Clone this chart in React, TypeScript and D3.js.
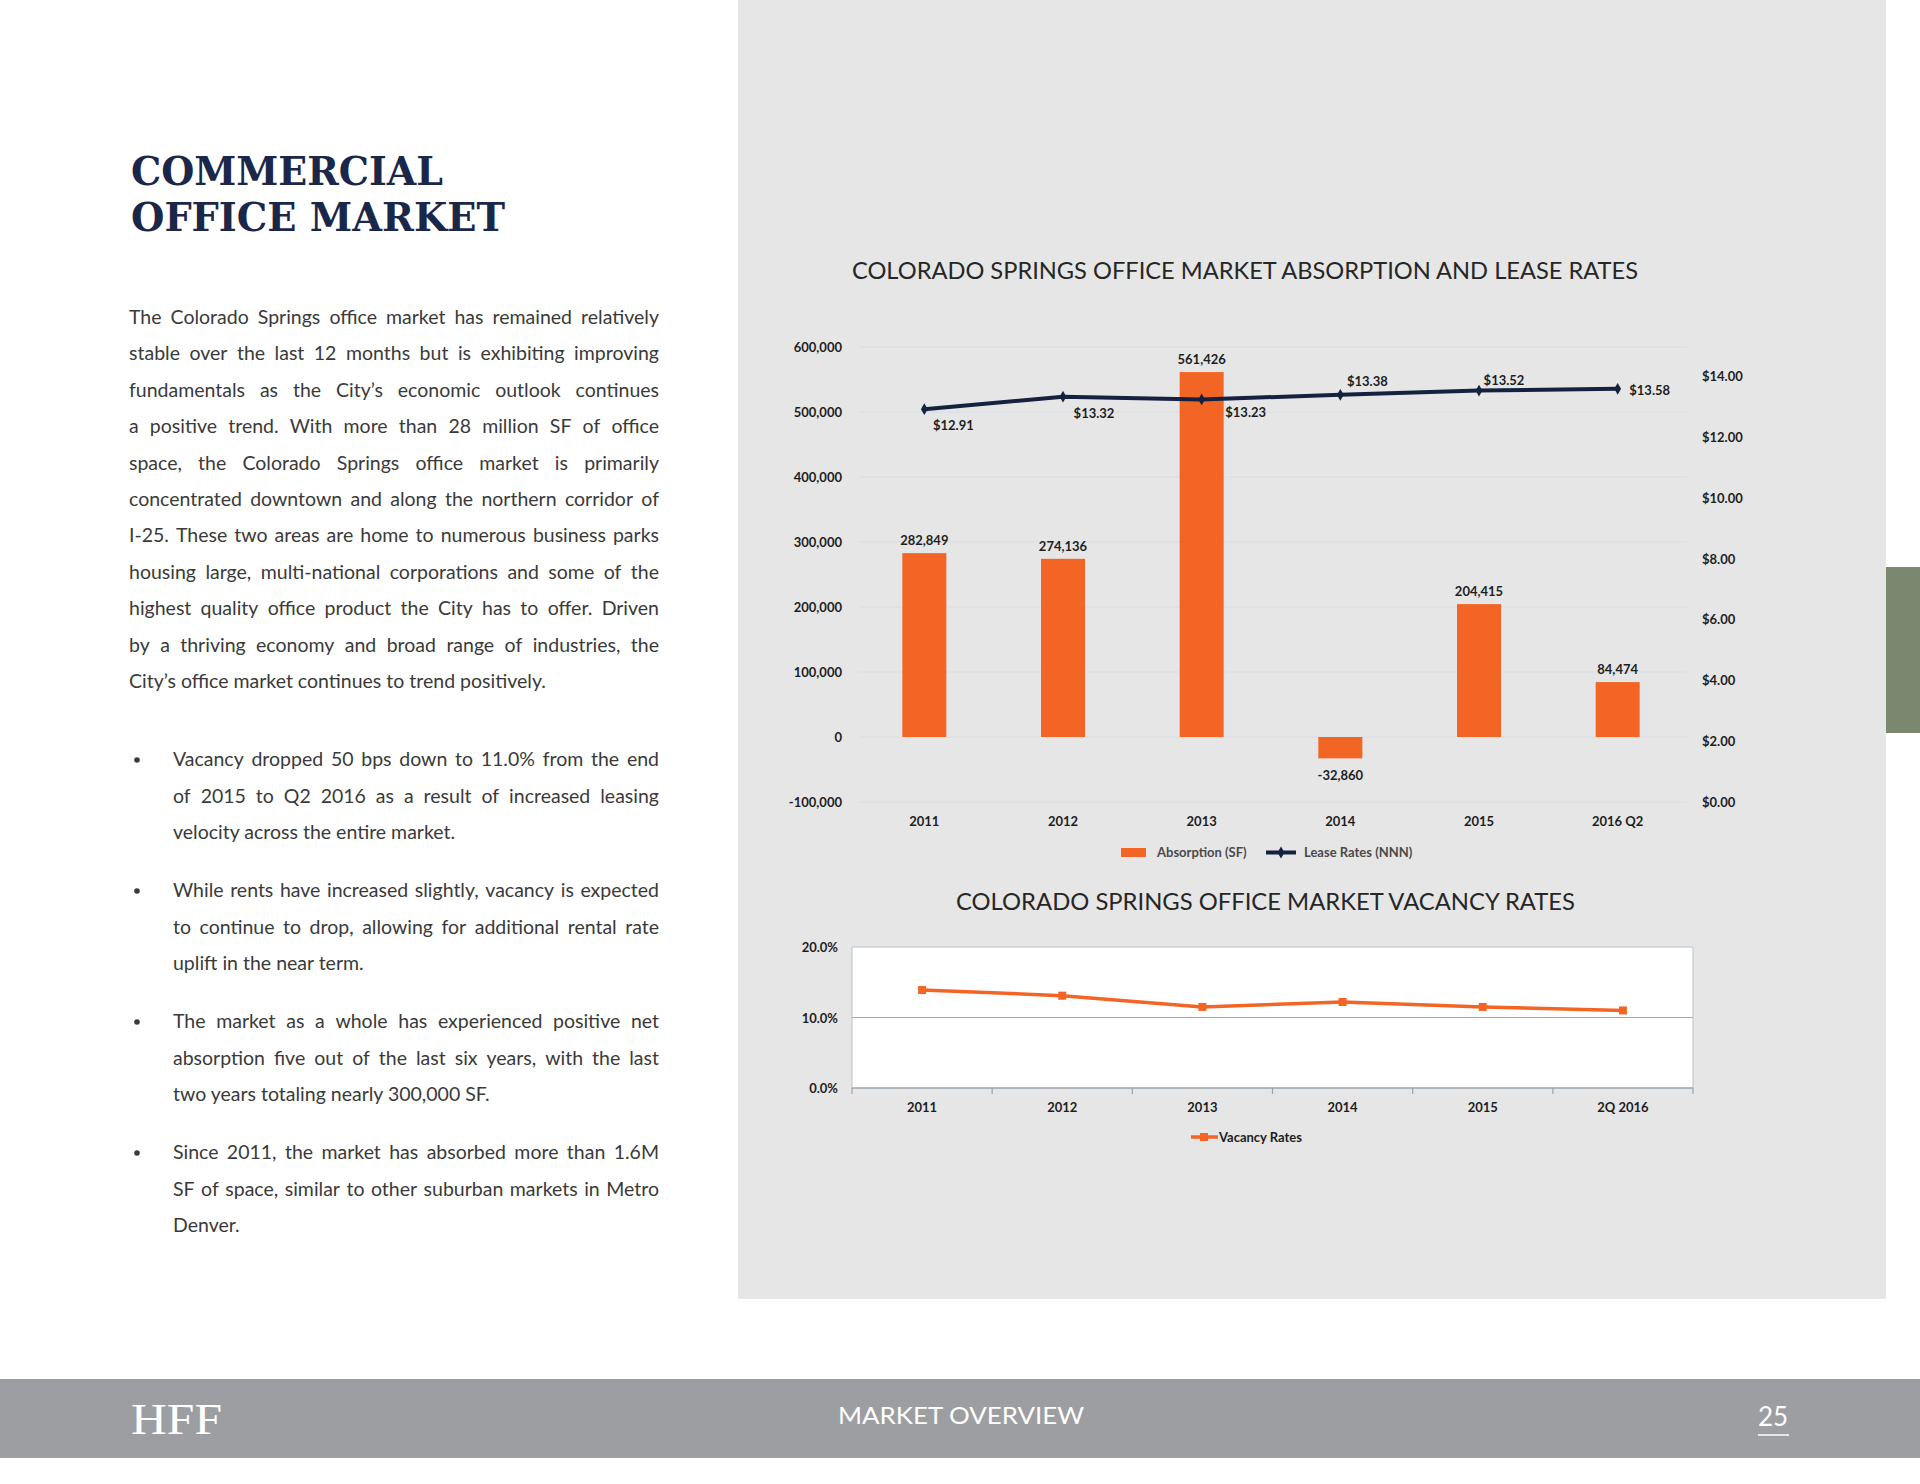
import React from "react";
import * as d3 from "d3";

// ---------- DATA ----------
const categories = ["2011", "2012", "2013", "2014", "2015", "2016 Q2"];
const absorption = [282849, 274136, 561426, -32860, 204415, 84474];
const leaseRates = [12.91, 13.32, 13.23, 13.38, 13.52, 13.58];
const absorptionTicks = [-100000, 0, 100000, 200000, 300000, 400000, 500000, 600000];
const leaseTicks = [0, 2, 4, 6, 8, 10, 12, 14];

const vacancyCategories = ["2011", "2012", "2013", "2014", "2015", "2Q 2016"];
const vacancyRates = [13.9, 13.1, 11.5, 12.2, 11.5, 11.0];
const vacancyTicks = [0, 10, 20];

const titleLines = ["COMMERCIAL", "OFFICE MARKET"];

const paragraphLines = [
  "The Colorado Springs office market has remained relatively",
  "stable over the last 12 months but is exhibiting improving",
  "fundamentals as the City\u2019s economic outlook continues",
  "a positive trend. With more than 28 million SF of office",
  "space, the Colorado Springs office market is primarily",
  "concentrated downtown and along the northern corridor of",
  "I-25. These two areas are home to numerous business parks",
  "housing large, multi-national corporations and some of the",
  "highest quality office product the City has to offer. Driven",
  "by a thriving economy and broad range of industries, the",
  "City\u2019s office market continues to trend positively.",
];

const bullets = [
  [
    "Vacancy dropped 50 bps down to 11.0% from the end",
    "of 2015 to Q2 2016 as a result of increased leasing",
    "velocity across the entire market.",
  ],
  [
    "While rents have increased slightly, vacancy is expected",
    "to continue to drop, allowing for additional rental rate",
    "uplift in the near term.",
  ],
  [
    "The market as a whole has experienced positive net",
    "absorption five out of the last six years, with the last",
    "two years totaling nearly 300,000 SF.",
  ],
  [
    "Since 2011, the market has absorbed more than 1.6M",
    "SF of space, similar to other suburban markets in Metro",
    "Denver.",
  ],
];

// label offsets for lease-rate labels (dx, dy) – styling only
const leaseLabelOffsets = [
  [29, 21],
  [31, 21],
  [44, 18],
  [27, -9],
  [25, -6],
  [32, 6],
];

// ---------- STYLE ----------
const ORANGE = "#f26524";
const NAVY = "#14213f";
const PANEL = "#e6e6e7";
const BODY_FONT = "Lato, 'Open Sans', sans-serif";
const BODY_SIZE = 19.5;
const CHART_FONT = "Lato, 'Noto Sans', sans-serif";

let _ctx: CanvasRenderingContext2D | null = null;
function measure(text: string, font: string) {
  if (!_ctx) _ctx = document.createElement("canvas").getContext("2d");
  if (!_ctx) return text.length * 9;
  _ctx.font = font;
  return _ctx.measureText(text).width;
}

function JustifiedLine({ text, x, y, width, justify }: { text: string; x: number; y: number; width: number; justify: boolean }) {
  const font = `400 ${BODY_SIZE}px Lato`;
  if (!justify) {
    return (
      <text x={x} y={y} fontFamily={BODY_FONT} fontSize={BODY_SIZE} fill="#3a3a3a">
        {text}
      </text>
    );
  }
  const words = text.split(" ");
  const widths = words.map((w) => measure(w, font));
  const total = d3.sum(widths);
  const gap = words.length > 1 ? (width - total) / (words.length - 1) : 0;
  let cx = x;
  return (
    <g>
      {words.map((w, i) => {
        const el = (
          <text key={i} x={cx} y={y} fontFamily={BODY_FONT} fontSize={BODY_SIZE} fill="#3a3a3a">
            {w}
          </text>
        );
        cx += widths[i] + gap;
        return el;
      })}
    </g>
  );
}

export default function App() {
  // ---- Chart 1 scales ----
  const x1 = d3.scaleBand<string>().domain(categories).range([855, 1687]).padding(0);
  const yL = d3.scaleLinear().domain([-100000, 600000]).range([802, 347]);
  const yR = d3.scaleLinear().domain([0, 14]).range([802, 376]);
  const barW = 44;
  const cx1 = (c: string) => (x1(c) as number) + x1.bandwidth() / 2;
  const fmtNum = (v: number) => d3.format(",")(v).replace("\u2212", "-");
  const leaseLine = d3
    .line<number>()
    .x((_, i) => cx1(categories[i]))
    .y((d) => yR(d));

  // ---- Chart 2 scales ----
  const x2 = d3.scaleBand<string>().domain(vacancyCategories).range([852, 1693]).padding(0);
  const y2 = d3.scaleLinear().domain([0, 20]).range([1088, 947]);
  const cx2 = (c: string) => (x2(c) as number) + x2.bandwidth() / 2;
  const vacLine = d3
    .line<number>()
    .x((_, i) => cx2(vacancyCategories[i]))
    .y((d) => y2(d));

  const diamond = d3.symbol().type(d3.symbolDiamond).size(40)() as string;

  return (
    <svg
      width={1920}
      height={1484}
      style={{ position: "absolute", left: 0, top: 0, display: "block", background: "#fff" }}
    >
      <rect x={0} y={0} width={1920} height={1484} fill="#ffffff" />
      {/* gray panel */}
      <rect x={738} y={0} width={1148} height={1299} fill={PANEL} />
      {/* green tab */}
      <rect x={1886} y={567} width={34} height={166} fill="#7b8870" />

      {/* ---------- Left text ---------- */}
      <text
        x={131}
        y={185}
        fontFamily="'DejaVu Serif', serif"
        fontWeight={700}
        fontSize={39}
        fill="#1b2748"
        textLength={312}
        lengthAdjust="spacingAndGlyphs"
      >
        {titleLines[0]}
      </text>
      <text
        x={131}
        y={231}
        fontFamily="'DejaVu Serif', serif"
        fontWeight={700}
        fontSize={39}
        fill="#1b2748"
        textLength={374}
        lengthAdjust="spacingAndGlyphs"
      >
        {titleLines[1]}
      </text>

      {paragraphLines.map((l, i) => (
        <JustifiedLine
          key={i}
          text={l}
          x={129}
          y={324 + i * 36.4}
          width={530}
          justify={i < paragraphLines.length - 1}
        />
      ))}

      {bullets.map((lines, bi) => (
        <g key={bi}>
          <circle cx={137} cy={766 + bi * 131 - 6} r={2.8} fill="#3a3a3a" />
          {lines.map((l, li) => (
            <JustifiedLine
              key={li}
              text={l}
              x={173}
              y={766 + bi * 131 + li * 36.6}
              width={486}
              justify={li < lines.length - 1}
            />
          ))}
        </g>
      ))}

      {/* ---------- Chart 1 ---------- */}
      <text
        x={852}
        y={279}
        fontFamily={CHART_FONT}
        fontSize={23.5}
        fill="#262626"
        textLength={786}
        lengthAdjust="spacingAndGlyphs"
      >
        COLORADO SPRINGS OFFICE MARKET ABSORPTION AND LEASE RATES
      </text>

      {absorptionTicks.map((t) => (
        <g key={t}>
          <line x1={859} x2={1687} y1={yL(t)} y2={yL(t)} stroke="#d6dde2" strokeWidth={1.2} />
          <text
            x={842}
            y={yL(t) + 5}
            textAnchor="end"
            fontFamily={CHART_FONT}
            fontWeight={700}
            fontSize={13}
            fill="#1e1e1e"
          >
            {fmtNum(t)}
          </text>
        </g>
      ))}
      {leaseTicks.map((t) => (
        <text
          key={t}
          x={1702}
          y={yR(t) + 5}
          fontFamily={CHART_FONT}
          fontWeight={700}
          fontSize={13}
          fill="#1e1e1e"
        >
          {d3.format("$.2f")(t)}
        </text>
      ))}

      {absorption.map((v, i) => {
        const c = categories[i];
        const y0 = yL(0);
        const yv = yL(v);
        return (
          <g key={c}>
            <rect
              x={cx1(c) - barW / 2}
              y={Math.min(y0, yv)}
              width={barW}
              height={Math.abs(yv - y0)}
              fill={ORANGE}
            />
            <text
              x={cx1(c)}
              y={v >= 0 ? yv - 8 : yv + 22}
              textAnchor="middle"
              fontFamily={CHART_FONT}
              fontWeight={700}
              fontSize={13}
              fill="#1e1e1e"
            >
              {fmtNum(v)}
            </text>
          </g>
        );
      })}

      <path d={leaseLine(leaseRates) as string} fill="none" stroke={NAVY} strokeWidth={4} strokeLinejoin="round" />
      {leaseRates.map((v, i) => (
        <g key={i}>
          <path d={diamond} transform={`translate(${cx1(categories[i])},${yR(v)})`} fill={NAVY} />
          <text
            x={cx1(categories[i]) + leaseLabelOffsets[i][0]}
            y={yR(v) + leaseLabelOffsets[i][1]}
            textAnchor="middle"
            fontFamily={CHART_FONT}
            fontWeight={700}
            fontSize={13}
            fill="#1e1e1e"
          >
            {d3.format("$.2f")(v)}
          </text>
        </g>
      ))}

      {categories.map((c) => (
        <text
          key={c}
          x={cx1(c)}
          y={826}
          textAnchor="middle"
          fontFamily={CHART_FONT}
          fontWeight={700}
          fontSize={13}
          fill="#1e1e1e"
        >
          {c}
        </text>
      ))}

      {/* legend 1 */}
      <rect x={1121} y={848} width={25} height={9} fill={ORANGE} />
      <text x={1157} y={857} fontFamily={CHART_FONT} fontWeight={700} fontSize={13} fill="#4a4a4a">
        Absorption (SF)
      </text>
      <line x1={1266} x2={1296} y1={852.5} y2={852.5} stroke={NAVY} strokeWidth={4} />
      <path d={diamond} transform="translate(1281,852.5)" fill={NAVY} />
      <text x={1304} y={857} fontFamily={CHART_FONT} fontWeight={700} fontSize={13} fill="#4a4a4a">
        Lease Rates (NNN)
      </text>

      {/* ---------- Chart 2 ---------- */}
      <text
        x={956}
        y={910}
        fontFamily={CHART_FONT}
        fontSize={23.5}
        fill="#262626"
        textLength={619}
        lengthAdjust="spacingAndGlyphs"
      >
        COLORADO SPRINGS OFFICE MARKET VACANCY RATES
      </text>

      <rect x={852} y={947} width={841} height={141} fill="#ffffff" />
      <line x1={852} x2={852} y1={947} y2={1088} stroke="#b9c3cb" strokeWidth={1} />
      <line x1={1693} x2={1693} y1={947} y2={1088} stroke="#b9c3cb" strokeWidth={1} />
      {vacancyTicks.map((t) => (
        <g key={t}>
          <line
            x1={852}
            x2={1693}
            y1={y2(t)}
            y2={y2(t)}
            stroke={t === 0 ? "#9aa3ab" : t === 20 ? "#b9c3cb" : "#a9a9a9"}
            strokeWidth={t === 0 ? 1.5 : 1}
          />
          <text
            x={838}
            y={y2(t) + 5}
            textAnchor="end"
            fontFamily={CHART_FONT}
            fontWeight={700}
            fontSize={13}
            fill="#1e1e1e"
          >
            {d3.format(".1f")(t)}%
          </text>
        </g>
      ))}
      {[...vacancyCategories.map((c) => x2(c) as number), 1693].map((xx, i) => (
        <line key={i} x1={xx} x2={xx} y1={1088} y2={1094} stroke="#9aa3ab" strokeWidth={1.2} />
      ))}
      {vacancyCategories.map((c) => (
        <text
          key={c}
          x={cx2(c)}
          y={1112}
          textAnchor="middle"
          fontFamily={CHART_FONT}
          fontWeight={700}
          fontSize={13}
          fill="#1e1e1e"
        >
          {c}
        </text>
      ))}
      <path d={vacLine(vacancyRates) as string} fill="none" stroke={ORANGE} strokeWidth={3.5} strokeLinejoin="round" />
      {vacancyRates.map((v, i) => (
        <rect key={i} x={cx2(vacancyCategories[i]) - 4} y={y2(v) - 4} width={8} height={8} fill={ORANGE} />
      ))}

      {/* legend 2 */}
      <line x1={1191} x2={1218} y1={1137} y2={1137} stroke={ORANGE} strokeWidth={3.5} />
      <rect x={1200} y={1133} width={8} height={8} fill={ORANGE} />
      <text x={1219} y={1142} fontFamily={CHART_FONT} fontWeight={700} fontSize={13} fill="#1e1e1e">
        Vacancy Rates
      </text>

      {/* ---------- Footer ---------- */}
      <rect x={0} y={1379} width={1920} height={79} fill="#9d9ea1" />
      <text
        x={131}
        y={1434}
        fontFamily="'Liberation Serif', serif"
        fontSize={44}
        fill="#ffffff"
        textLength={91}
        lengthAdjust="spacingAndGlyphs"
      >
        HFF
      </text>
      <text
        x={838}
        y={1424}
        fontFamily={CHART_FONT}
        fontSize={24}
        fill="#ffffff"
        textLength={246}
        lengthAdjust="spacingAndGlyphs"
      >
        MARKET OVERVIEW
      </text>
      <text
        x={1773}
        y={1426}
        textAnchor="middle"
        fontFamily={CHART_FONT}
        fontSize={26}
        fill="#ffffff"
      >
        25
      </text>
      <line x1={1758} x2={1789} y1={1435} y2={1435} stroke="#ffffff" strokeWidth={1.5} />
    </svg>
  );
}
